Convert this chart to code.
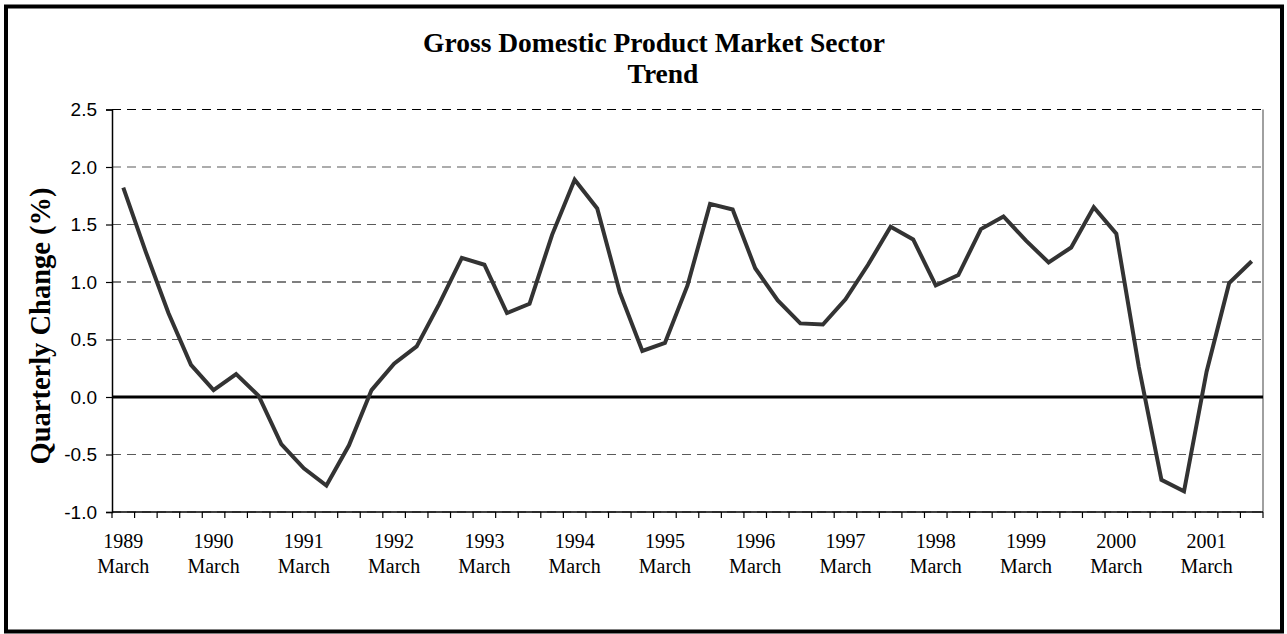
<!DOCTYPE html>
<html>
<head>
<meta charset="utf-8">
<script src="https://cdn.jsdelivr.net/npm/d3@7"></script>
<style>
  body { margin: 0; background: #fff; }
  .serif { font-family: 'Liberation Serif', 'Times New Roman', serif; }
  .sans { font-family: 'Liberation Sans', Arial, sans-serif; }
</style>
</head>
<body>
<div id="chart"></div>
<script>
// quarterly change (%), March 1989 .. September 2001
const values = [
  1.82, 1.26, 0.73, 0.28,
  0.06, 0.20, 0.01, -0.41,
  -0.62, -0.77, -0.42, 0.06,
  0.29, 0.44, 0.81, 1.21,
  1.15, 0.73, 0.81, 1.41,
  1.89, 1.64, 0.91, 0.40,
  0.47, 0.97, 1.68, 1.63,
  1.12, 0.84, 0.64, 0.63,
  0.85, 1.15, 1.48, 1.37,
  0.97, 1.06, 1.46, 1.57,
  1.36, 1.17, 1.30, 1.65,
  1.42, 0.26, -0.72, -0.82,
  0.22, 0.99, 1.18
]
const years = ['1989', '1990', '1991', '1992', '1993', '1994', '1995',
  '1996', '1997', '1998', '1999', '2000', '2001']
const months = ['March', 'June', 'September', 'December']
const yTicks = [-1.0, -0.5, 0.0, 0.5, 1.0, 1.5, 2.0, 2.5]

const categories = values.map((v, i) => months[i % 4] + ' ' + years[Math.floor(i / 4)])
const datapoints = values.map((v, i) => ({ cat: categories[i], value: v }))

const width = 1287
const height = 634
const plot = { left: 112, right: 1263, top: 109.5, bottom: 512 }

const svg = d3
  .select('#chart')
  .append('svg')
  .attr('width', width)
  .attr('height', height)

// outer frame
svg
  .append('rect')
  .attr('x', 6)
  .attr('y', 6.5)
  .attr('width', 1276)
  .attr('height', 625)
  .attr('fill', 'none')
  .attr('stroke', '#000')
  .attr('stroke-width', 4)

const xPositionScale = d3
  .scaleBand()
  .domain(categories)
  .range([plot.left, plot.right])
  .padding(0)

const yPositionScale = d3
  .scaleLinear()
  .domain([-1, 2.5])
  .range([plot.bottom, plot.top])

// gridlines
svg
  .append('g')
  .selectAll('line')
  .data(yTicks.filter(d => d !== 0))
  .enter()
  .append('line')
  .attr('x1', plot.left)
  .attr('x2', plot.right)
  .attr('y1', d => yPositionScale(d))
  .attr('y2', d => yPositionScale(d))
  .attr('stroke', d => (d === 1 || d === 2.5 ? '#000' : '#5a5a5a'))
  .attr('stroke-width', 1.2)
  .attr('stroke-dasharray', '9,6')

// plot border (right side grey)
svg
  .append('line')
  .attr('x1', plot.right)
  .attr('x2', plot.right)
  .attr('y1', plot.top)
  .attr('y2', plot.bottom)
  .attr('stroke', '#808080')
  .attr('stroke-width', 1.5)

// zero line
svg
  .append('line')
  .attr('x1', plot.left)
  .attr('x2', plot.right)
  .attr('y1', yPositionScale(0))
  .attr('y2', yPositionScale(0))
  .attr('stroke', '#000')
  .attr('stroke-width', 3)

// y axis
const yAxis = d3
  .axisLeft(yPositionScale)
  .tickValues(yTicks)
  .tickFormat(d => d.toFixed(1))
  .tickSize(6)
  .tickPadding(9)

svg
  .append('g')
  .attr('class', 'axis y-axis sans')
  .attr('transform', 'translate(' + plot.left + ',0)')
  .call(yAxis)
  .call(g => g.select('.domain').attr('stroke', '#000').attr('stroke-width', 1.5))
  .call(g => g.selectAll('.tick line').attr('stroke', '#000').attr('stroke-width', 1.2))
  .call(g =>
    g
      .selectAll('.tick text')
      .attr('font-size', 19)
      .attr('fill', '#000')
      .attr('font-family', "'Liberation Sans', Arial, sans-serif")
  )

// x axis: ticks between quarters, labels on each March
const xAxisG = svg.append('g').attr('class', 'axis x-axis')

xAxisG
  .append('line')
  .attr('x1', plot.left)
  .attr('x2', plot.right)
  .attr('y1', plot.bottom)
  .attr('y2', plot.bottom)
  .attr('stroke', '#000')
  .attr('stroke-width', 1.5)

const tickEdges = categories.map(c => xPositionScale(c)).concat([plot.right])
xAxisG
  .selectAll('.qtick')
  .data(tickEdges)
  .enter()
  .append('line')
  .attr('class', 'qtick')
  .attr('x1', d => d)
  .attr('x2', d => d)
  .attr('y1', plot.bottom)
  .attr('y2', plot.bottom + 6)
  .attr('stroke', '#000')
  .attr('stroke-width', 1.2)

const marchCats = categories.filter((c, i) => i % 4 === 0)
const labels = xAxisG
  .selectAll('.xlabel')
  .data(marchCats)
  .enter()
  .append('text')
  .attr('class', 'xlabel serif')
  .attr('text-anchor', 'middle')
  .attr('font-size', 20)
  .attr('fill', '#000')

labels
  .append('tspan')
  .attr('x', d => xPositionScale(d) + xPositionScale.bandwidth() / 2)
  .attr('y', 548)
  .text(d => d.split(' ')[1])

labels
  .append('tspan')
  .attr('x', d => xPositionScale(d) + xPositionScale.bandwidth() / 2)
  .attr('y', 573)
  .text(d => d.split(' ')[0])

// the trend line
const line = d3
  .line()
  .x(d => xPositionScale(d.cat) + xPositionScale.bandwidth() / 2)
  .y(d => yPositionScale(d.value))

svg
  .append('path')
  .datum(datapoints)
  .attr('d', line)
  .attr('fill', 'none')
  .attr('stroke', '#333333')
  .attr('stroke-width', 4)
  .attr('stroke-linejoin', 'miter')

// titles
svg
  .append('text')
  .attr('class', 'serif')
  .attr('x', 654)
  .attr('y', 52)
  .attr('text-anchor', 'middle')
  .attr('font-size', 27.5)
  .attr('font-weight', 700)
  .text('Gross Domestic Product Market Sector')

svg
  .append('text')
  .attr('class', 'serif')
  .attr('x', 663)
  .attr('y', 83)
  .attr('text-anchor', 'middle')
  .attr('font-size', 27.5)
  .attr('font-weight', 700)
  .text('Trend')

svg
  .append('text')
  .attr('class', 'serif')
  .attr('transform', 'translate(50,326) rotate(-90)')
  .attr('text-anchor', 'middle')
  .attr('font-size', 28.5)
  .attr('font-weight', 700)
  .text('Quarterly Change (%)')
</script>
</body>
</html>
